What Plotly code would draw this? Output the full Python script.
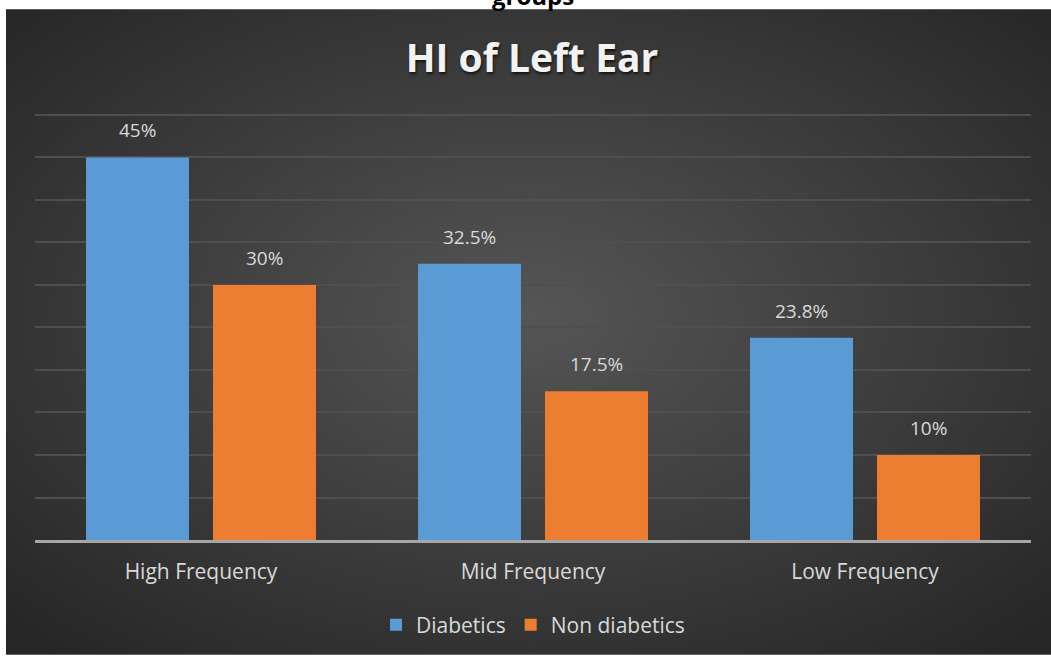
import base64, struct, zlib
import numpy as np
import plotly.graph_objects as go

categories = ["High Frequency", "Mid Frequency", "Low Frequency"]
diabetics = [45, 32.5, 23.8]
non_diabetics = [30, 17.5, 10]
series_names = ["Diabetics", "Non diabetics"]
title_text = "HI of Left Ear"
top_text = "groups"

W, H = 1051, 656
L, R, T, B = 35, 20, 112, 115
PW, PH = W - L - R, H - T - B


def px_x(p):
    return (p - L) / PW


def px_y(p):
    return (H - B - p) / PH


def make_png(arr):
    h, w, _ = arr.shape
    raw = b"".join(b"\x00" + arr[i].tobytes() for i in range(h))

    def chunk(tag, data):
        c = struct.pack(">I", len(data)) + tag + data
        return c + struct.pack(">I", zlib.crc32(tag + data) & 0xFFFFFFFF)

    return (b"\x89PNG\r\n\x1a\n" + chunk(b"IHDR", struct.pack(">IIBBBBB", w, h, 8, 2, 0, 0, 0))
            + chunk(b"IDAT", zlib.compress(raw, 9)) + chunk(b"IEND", b""))


gw, gh = 262, 162
yy, xx = np.mgrid[0:gh, 0:gw]
dx = (xx - gw * 0.5) / (gw * 0.5 * 1.42)
dy = (yy - gh * 0.47) / (gh * 0.5 * 1.42)
t = np.clip(np.sqrt(dx ** 2 + dy ** 2), 0, 1)
c = (0x56 * (1 - t) + 0x26 * t).astype(np.uint8)
img = np.stack([c, c, c], axis=-1)
bg_uri = "data:image/png;base64," + base64.b64encode(make_png(img)).decode()

font = "Open Sans, Lato, sans-serif"
fig = go.Figure()
fig.add_bar(x=categories, y=diabetics, name=series_names[0], marker_color="#5B9BD5",
            marker_line_width=0)
fig.add_bar(x=categories, y=non_diabetics, name=series_names[1], marker_color="#ED7D31",
            marker_line_width=0)

bargap, groupgap = 0.235, 0.189
cat_px = PW / len(categories)
slot = cat_px * (1 - bargap) / 2
for vals, off in ((diabetics, -0.5), (non_diabetics, 0.5)):
    for cat, v in zip(categories, vals):
        fig.add_annotation(x=cat, y=v, xref="x", yref="y", text=f"{v:g}%", showarrow=False,
                           xshift=off * slot, yshift=12, yanchor="bottom",
                           font=dict(family=font, size=19, color="#d9d9d9"))

fig.add_annotation(x=0.5, y=px_y(14), xref="paper", yref="paper", text=f"<b>{top_text}</b>",
                   showarrow=False, xshift=(533 - (L + PW / 2)), yanchor="bottom",
                   font=dict(family=font, size=24, color="#000000"))

fig.add_layout_image(source=bg_uri, xref="paper", yref="paper", x=px_x(6), y=px_y(9),
                     sizex=px_x(W) - px_x(6), sizey=px_y(9) - px_y(H), sizing="stretch",
                     xanchor="left", yanchor="top", layer="below")

fig.update_layout(
    width=W, height=H, margin=dict(l=L, r=R, t=T, b=B),
    paper_bgcolor="#ffffff", plot_bgcolor="rgba(0,0,0,0)",
    barmode="group", bargap=bargap, bargroupgap=groupgap,
    title=dict(text=f"<b>{title_text}</b>", x=px_x(532), xanchor="center", xref="paper",
               y=1 - 58 / H, yanchor="middle",
               font=dict(family=font, size=39, color="#f2f2f2",
                         shadow="1px 2px 3px rgba(0,0,0,0.7)")),
    showlegend=True,
    legend=dict(orientation="h", x=px_x(533), xanchor="center", y=px_y(625), yanchor="middle",
                font=dict(family=font, size=21, color="#d9d9d9"), bgcolor="rgba(0,0,0,0)",
                itemwidth=30, traceorder="normal"),
    xaxis=dict(showline=True, linecolor="#a6a6a6", linewidth=3, ticks="", showgrid=False,
               tickfont=dict(family=font, size=21, color="#d9d9d9"), ticklabelstandoff=11),
    yaxis=dict(range=[0, 50.35], dtick=5, showticklabels=False, showgrid=True,
               gridcolor="#4f4f4f", gridwidth=2, zeroline=False, ticks=""),
)

fig.write_html("out.html")
